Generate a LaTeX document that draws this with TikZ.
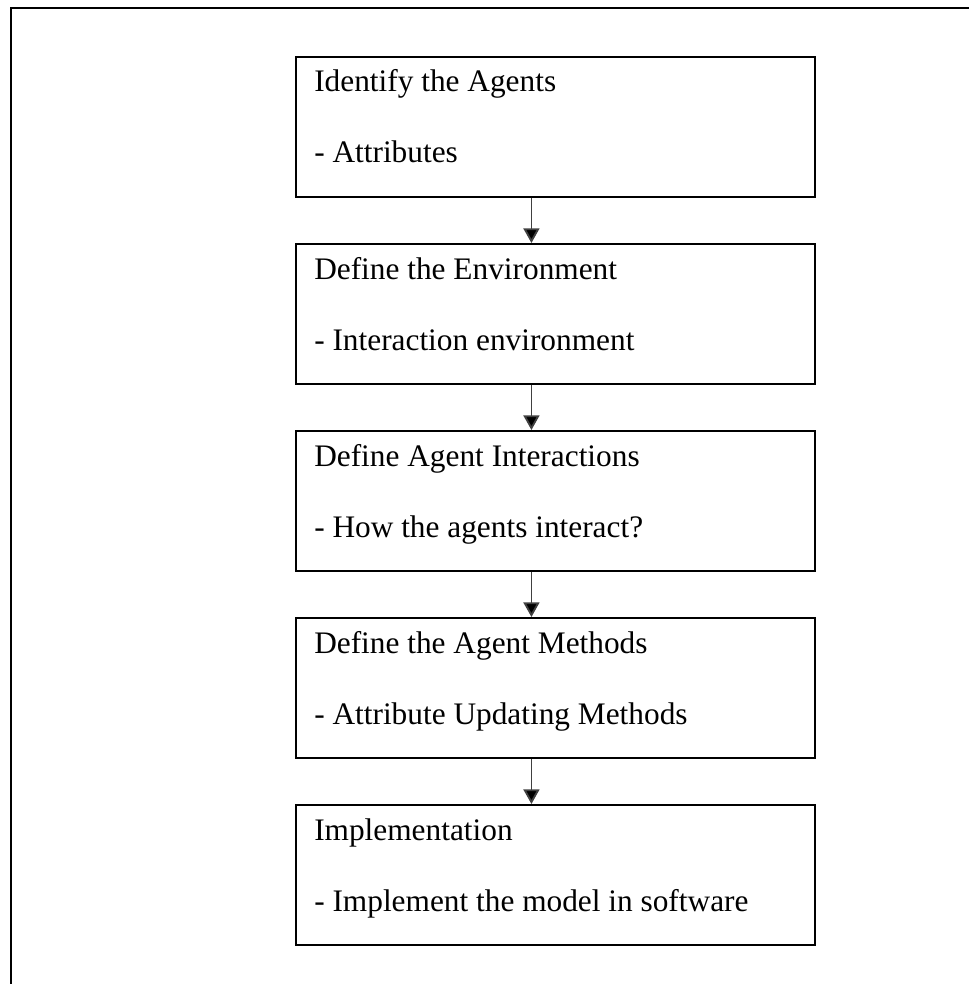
\documentclass[tikz,border=0pt]{standalone}
\usepackage{fontspec}
\setmainfont{Liberation Serif}
\usetikzlibrary{arrows.meta}
\begin{document}
\begin{tikzpicture}[x=0.75pt,y=-0.75pt,
  stepbox/.style={draw,line width=1.4pt,minimum width=519*0.75pt,minimum height=140*0.75pt,inner sep=0pt,anchor=north west},
  txt/.style={anchor=base west,inner sep=0pt,font=\fontsize{23.5}{28}\selectfont},
  conn/.style={line width=1.4pt,draw=black!75,-{Triangle[width=12pt,length=11pt,fill=black]}}]
\useasboundingbox (0,0) rectangle (969,984);
\draw[line width=1.5pt] (11,990) -- (11,8) -- (975,8);
\foreach \n/\t/\a/\b in {1/56/Identify the Agents/- Attributes,
  2/243/Define the Environment/- Interaction environment,
  3/430/Define Agent Interactions/- How the agents interact?,
  4/617/Define the Agent Methods/- Attribute Updating Methods,
  5/804/Implementation/- Implement the model in software}{
  \node[stepbox] (b\n) at (295,\t) {};
  \node[txt] (t\n) at ([xshift=19*0.75pt,yshift=-36*0.75pt]b\n.north west) {\a};
  \node[txt] (s\n) at ([xshift=19*0.75pt,yshift=-107*0.75pt]b\n.north west) {\b};
}
\foreach \i/\j in {1/2,2/3,3/4,4/5}{
  \draw[conn] ([xshift=-24*0.75pt]b\i.south) -- ([xshift=-24*0.75pt]b\j.north);
}
\end{tikzpicture}
\end{document}
